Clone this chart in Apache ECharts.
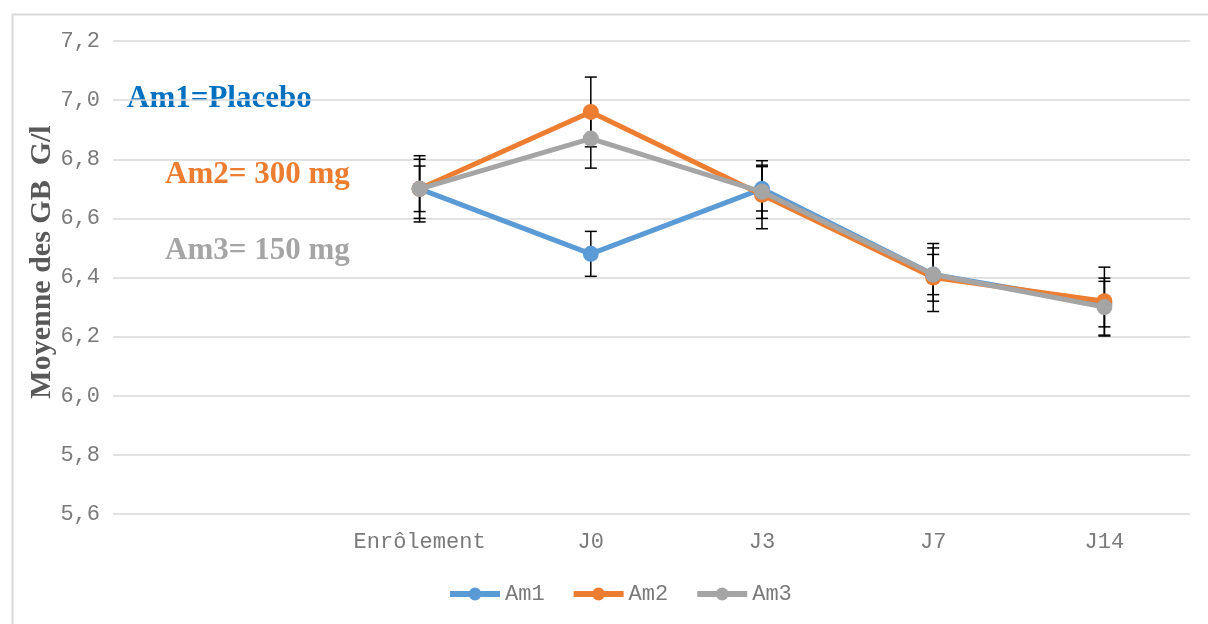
<!DOCTYPE html>
<html>
<head>
<meta charset="utf-8">
<script src="https://cdn.jsdelivr.net/npm/echarts@6/dist/echarts.min.js"></script>
<style>
  html, body { margin: 0; padding: 0; background: #fff; }
  #chart { width: 1208px; height: 624px; }
</style>
</head>
<body>
<div id="chart"></div>
<script>
// Visits and mean white blood cell counts (G/l) per arm, with error bar half-widths
const categories = ['Enrôlement', 'J0', 'J3', 'J7', 'J14'];
const am1 = [6.70, 6.48, 6.70, 6.41, 6.31];
const am2 = [6.70, 6.96, 6.68, 6.40, 6.32];
const am3 = [6.70, 6.87, 6.69, 6.41, 6.30];
const am1Err = [0.077, 0.076, 0.075, 0.068, 0.077];
const am2Err = [0.112, 0.118, 0.115, 0.115, 0.115];
const am3Err = [0.100, 0.100, 0.090, 0.090, 0.098];
const seriesNames = ['Am1', 'Am2', 'Am3'];
const yTicksMin = 5.6, yTicksMax = 7.2, yTickStep = 0.2;

const colors = ['#5B9BD5', '#ED7D31', '#A5A5A5'];
const monoFont = 'Liberation Mono';
const serifFont = 'Liberation Serif';
const labelGrey = '#7a7a7a';

function errorData(values, errs) {
  return values.map((v, i) => [i, v - errs[i], v + errs[i]]);
}

function renderErrorBar(params, api) {
  const x = api.value(0);
  const lo = api.coord([x, api.value(1)]);
  const hi = api.coord([x, api.value(2)]);
  const half = 6;
  const style = { stroke: '#000', lineWidth: 1.5, fill: null };
  return {
    type: 'group',
    children: [
      { type: 'line', shape: { x1: lo[0], y1: lo[1], x2: hi[0], y2: hi[1] }, style },
      { type: 'line', shape: { x1: lo[0] - half, y1: lo[1], x2: lo[0] + half, y2: lo[1] }, style },
      { type: 'line', shape: { x1: hi[0] - half, y1: hi[1], x2: hi[0] + half, y2: hi[1] }, style }
    ]
  };
}

const lineSeries = [am1, am2, am3].map((vals, k) => ({
  name: seriesNames[k],
  type: 'line',
  xAxisIndex: 1,
  yAxisIndex: 1,
  data: vals,
  color: colors[k],
  symbol: 'circle',
  symbolSize: 16,
  lineStyle: { width: 5, color: colors[k] },
  itemStyle: { color: colors[k] },
  emphasis: { disabled: true },
  z: 3 + k
}));

const errSeries = [[am1, am1Err], [am2, am2Err], [am3, am3Err]].map((pair, k) => ({
  name: seriesNames[k] + ' err',
  type: 'custom',
  xAxisIndex: 1,
  yAxisIndex: 1,
  data: errorData(pair[0], pair[1]),
  encode: { x: 0, y: [1, 2] },
  renderItem: renderErrorBar,
  z: 2,
  silent: true
}));

const chart = echarts.init(document.getElementById('chart'), null, { renderer: 'canvas' });
chart.setOption({
  animation: false,
  backgroundColor: '#fff',
  grid: [
    { left: 113, right: 18, top: 41, bottom: 110 },
    { left: 334, right: 18, top: 41, bottom: 110 }
  ],
  xAxis: [
    { gridIndex: 0, type: 'value', show: false, min: 0, max: 1 },
    {
      gridIndex: 1,
      type: 'category',
      data: categories,
      boundaryGap: true,
      axisLine: { show: false },
      axisTick: { show: false },
      axisLabel: { interval: 0, fontFamily: monoFont, fontSize: 22, color: labelGrey, margin: 17 }
    }
  ],
  yAxis: [
    {
      gridIndex: 0,
      type: 'value',
      min: yTicksMin,
      max: yTicksMax,
      interval: yTickStep,
      axisLine: { show: false },
      axisTick: { show: false },
      splitLine: { lineStyle: { color: '#d9d9d9', width: 1.5 } },
      axisLabel: {
        fontFamily: monoFont, fontSize: 22, color: labelGrey, margin: 13,
        formatter: v => v.toFixed(1).replace('.', ',')
      }
    },
    { gridIndex: 1, type: 'value', min: yTicksMin, max: yTicksMax, show: false }
  ],
  legend: {
    data: seriesNames,
    left: 447,
    top: 583,
    padding: 0,
    itemWidth: 50,
    itemHeight: 16,
    itemGap: 26,
    lineStyle: { width: 6 },
    textStyle: { fontFamily: monoFont, fontSize: 22, color: labelGrey }
  },
  graphic: [
    {
      type: 'rect', left: 10, top: 12, z: -1,
      shape: { width: 1220, height: 640 },
      style: { fill: null, stroke: '#d9d9d9', lineWidth: 2 }
    },
    {
      type: 'text', x: 42, y: 262, rotation: Math.PI / 2,
      style: {
        text: 'Moyenne des GB  G/l', fontFamily: serifFont, fontWeight: 'bold', fontSize: 30,
        fill: '#595959', align: 'center', verticalAlign: 'middle'
      }
    },
    {
      type: 'text', left: 127, top: 83,
      style: { text: 'Am1=Placebo', fontFamily: serifFont, fontWeight: 'bold', fontSize: 31, fill: '#0070C0' }
    },
    {
      type: 'text', left: 165, top: 159,
      style: { text: 'Am2= 300 mg', fontFamily: serifFont, fontWeight: 'bold', fontSize: 31, fill: '#ED7D31' }
    },
    {
      type: 'text', left: 165, top: 235,
      style: { text: 'Am3= 150 mg', fontFamily: serifFont, fontWeight: 'bold', fontSize: 31, fill: '#A5A5A5' }
    }
  ],
  series: errSeries.concat(lineSeries)
});
</script>
</body>
</html>
